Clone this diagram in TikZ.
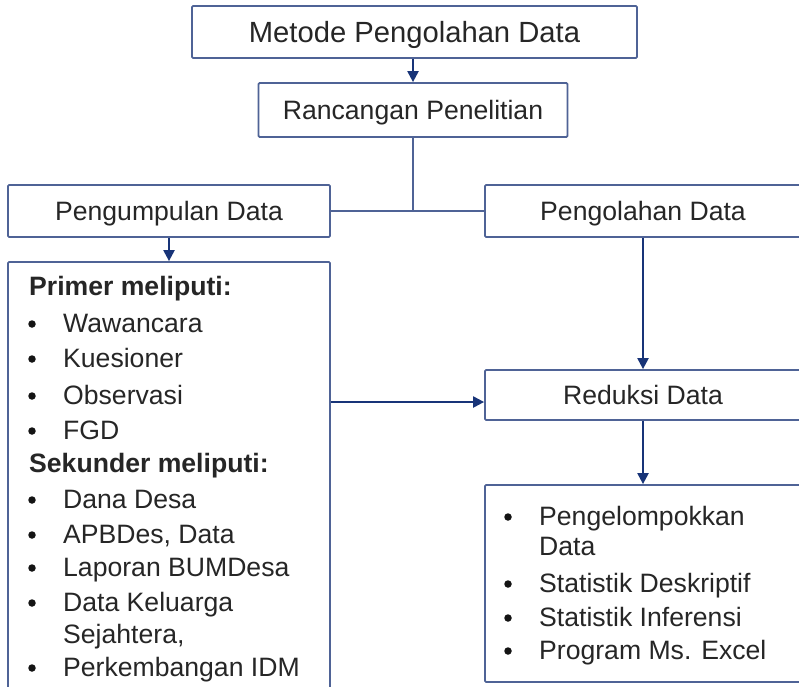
\documentclass[tikz,border=0pt]{standalone}
\usepackage{fontspec}
\setmainfont{Liberation Sans}
\usepackage{tikz}
\usetikzlibrary{arrows.meta}

\begin{document}
\begin{tikzpicture}[x={(1pt,0pt)},y={(0pt,-1pt)},
  every node/.style={font=\fontsize{26.6}{32}\selectfont, text={rgb,255:red,38;green,38;blue,38}},
  box/.style={draw={rgb,255:red,79;green,99;blue,150}, line width=1.8pt, rounded corners=1.2pt, fill=white, inner sep=0pt, text height=19.5pt, text depth=0pt},
  item/.style={anchor=base west, inner sep=0pt},
  dot/.style={circle, fill={rgb,255:red,20;green,20;blue,20}, inner sep=0pt, minimum size=7.5pt},
  link/.style={draw={rgb,255:red,79;green,99;blue,150}, line width=1.8pt},
  arr/.style={draw={rgb,255:red,24;green,52;blue,120}, line width=2.2pt, -{Triangle[length=11pt,width=11pt]}}]
\useasboundingbox[fill=white] (0,0) rectangle (799,686);
\clip (0,0) rectangle (799,686);
\node[box, minimum width=445pt, minimum height=52pt, font=\fontsize{29.2}{34}\selectfont, text height=20.8pt] (metode) at (414.5,32) {Metode Pengolahan Data};
\node[box, minimum width=309pt, minimum height=54pt] (rancangan) at (413,110) {Rancangan Penelitian};
\node[box, minimum width=322pt, minimum height=52pt] (pengumpulan) at (169,211) {Pengumpulan Data};
\node[box, minimum width=316pt, minimum height=52pt] (pengolahan) at (643,211) {Pengolahan Data};
\node[box, minimum width=322pt, minimum height=458pt] (primer) at (169,491) {};
\node[box, minimum width=316pt, minimum height=50pt] (reduksi) at (643,395) {Reduksi Data};
\node[box, minimum width=316pt, minimum height=197pt] (hasil) at (643,583.5) {};
\coordinate (feed) at (0,402);
\draw[arr] (rancangan.north |- metode.south) -- (rancangan.north);
\draw[link] (rancangan.south) -- (rancangan.south |- pengumpulan.east);
\draw[link] (pengumpulan.east) -- (pengolahan.west);
\draw[arr] (pengumpulan.south) -- (primer.north);
\draw[arr] (pengolahan.south) -- (reduksi.north);
\draw[arr] (primer.east |- feed) -- (reduksi.west |- feed);
\draw[arr] (reduksi.south) -- (hasil.north);
\node[item, font=\fontsize{26.6}{32}\selectfont\bfseries] (primerhead) at (29,295) {Primer meliputi:};
\node[dot] at (32,324) {};
\node[item] (wawancara) at (63,332) {Wawancara};
\node[dot] at (32,359) {};
\node[item] (kuesioner) at (63,367) {Kuesioner};
\node[dot] at (32,396) {};
\node[item] (observasi) at (63,404) {Observasi};
\node[dot] at (32,431) {};
\node[item] (fgd) at (63,439) {FGD};
\node[item, font=\fontsize{26.6}{32}\selectfont\bfseries] (sekunderhead) at (29,472) {Sekunder meliputi:};
\node[dot] at (32,500) {};
\node[item] (danadesa) at (63,508) {Dana Desa};
\node[dot] at (32,535) {};
\node[item] (apbdes) at (63,543) {APBDes, Data};
\node[dot] at (32,568) {};
\node[item] (laporan) at (63,576) {Laporan BUMDesa};
\node[dot] at (32,603) {};
\node[item] (keluarga) at (63,611) {Data Keluarga};
\node[item] (sejahtera) at (63,643) {Sejahtera,};
\node[dot] at (32,668) {};
\node[item] (idm) at (63,676) {Perkembangan IDM};
\node[dot] at (508,517) {};
\node[item] (kelompok) at (539,525) {Pengelompokkan};
\node[item] (kelompokdata) at (539,555) {Data};
\node[dot] at (508,584) {};
\node[item] (deskriptif) at (539,592) {Statistik Deskriptif};
\node[dot] at (508,618) {};
\node[item] (inferensi) at (539,626) {Statistik Inferensi};
\node[dot] at (508,651) {};
\node[item] (excel) at (539,659) {Program Ms. Excel};
\end{tikzpicture}
\end{document}
